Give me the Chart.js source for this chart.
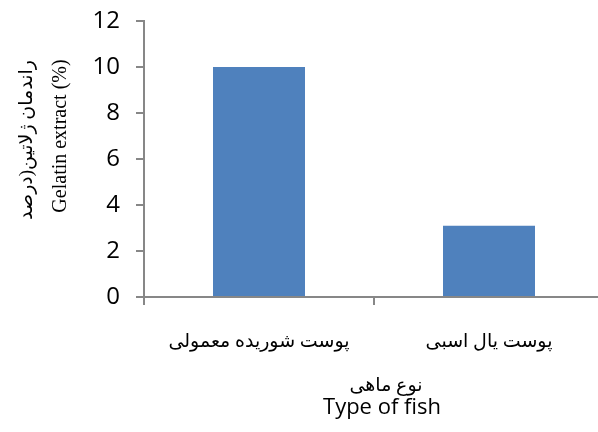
<!DOCTYPE html>
<html>
<head>
<meta charset="utf-8">
<script src="https://cdn.jsdelivr.net/npm/chart.js@4/dist/chart.umd.min.js"></script>
<style>
  html, body { margin: 0; padding: 0; background: #fff; overflow: hidden; }
  #wrap { width: 606px; height: 432px; }
</style>
</head>
<body>
<div id="wrap"><canvas id="c" width="606" height="432"></canvas></div>
<script>
// Fish skin types and gelatin yield (%)
const categories = ['پوست شوریده معمولی', 'پوست یال اسبی'];
const gelatinYield = [10.0, 3.1];
const yTicks = [0, 2, 4, 6, 8, 10, 12];

const xTitleFa = 'نوع ماهی';
const xTitleEn = 'Type of fish';
const yTitleFa = 'راندمان ژلاتین(درصد';
const yTitleEn = 'Gelatin extract (%)';

const AXIS = '#878787';
const FA_FONT = '"Liberation Serif", "DejaVu Sans", serif';

// Two-language axis titles, each line in its own font
const axisTitles = {
  id: 'axisTitles',
  afterDraw(chart) {
    const { ctx, chartArea: a } = chart;
    ctx.save();
    ctx.fillStyle = '#000';
    ctx.textAlign = 'center';
    ctx.textBaseline = 'middle';
    const cx = (a.left + a.right) / 2 + 8;
    ctx.font = '19px ' + FA_FONT;
    ctx.fillText(xTitleFa, cx + 4, a.bottom + 89);
    ctx.font = '22px "Open Sans", sans-serif';
    ctx.fillText(xTitleEn, cx, a.bottom + 111);

    const cy = (a.top + a.bottom) / 2 - 21;
    ctx.translate(0, cy);
    ctx.rotate(-Math.PI / 2);
    ctx.font = '19px ' + FA_FONT;
    ctx.fillText(yTitleFa, -2, 27);
    ctx.font = '20px "Liberation Serif", serif';
    ctx.fillText(yTitleEn, 2, 61);
    ctx.restore();
  }
};

new Chart(document.getElementById('c'), {
  type: 'bar',
  data: {
    labels: categories,
    datasets: [{
      data: gelatinYield,
      backgroundColor: '#4f81bd',
      borderWidth: 0,
      barPercentage: 0.4,
      categoryPercentage: 1.0
    }]
  },
  options: {
    responsive: false,
    animation: false,
    events: [],
    layout: { padding: { left: 0, top: 21, right: 2, bottom: 0 } },
    plugins: { legend: { display: false }, tooltip: { enabled: false } },
    scales: {
      x: {
        offset: true,
        border: { display: true, color: AXIS, width: 2 },
        grid: { display: true, offset: true, drawOnChartArea: false, drawTicks: true, tickLength: 8, color: AXIS, lineWidth: 2 },
        ticks: {
          color: '#000',
          padding: 26,
          maxRotation: 0,
          font: { family: FA_FONT, size: 19 }
        },
        afterFit(scale) {
          scale.height = 135;
          scale.paddingLeft = 0;
          scale.paddingRight = 0;
        }
      },
      y: {
        min: 0,
        max: 12,
        border: { display: true, color: AXIS, width: 2 },
        grid: { display: true, drawOnChartArea: false, drawTicks: true, tickLength: 8, color: AXIS, lineWidth: 2 },
        afterBuildTicks(scale) { scale.ticks = yTicks.map(v => ({ value: v })); },
        ticks: {
          color: '#000',
          padding: 16,
          font: { family: '"Open Sans", sans-serif', size: 24 }
        },
        afterFit(scale) {
          scale.width = 144;
          scale.paddingTop = 0;
          scale.paddingBottom = 0;
        }
      }
    }
  },
  plugins: [axisTitles]
});
</script>
</body>
</html>
